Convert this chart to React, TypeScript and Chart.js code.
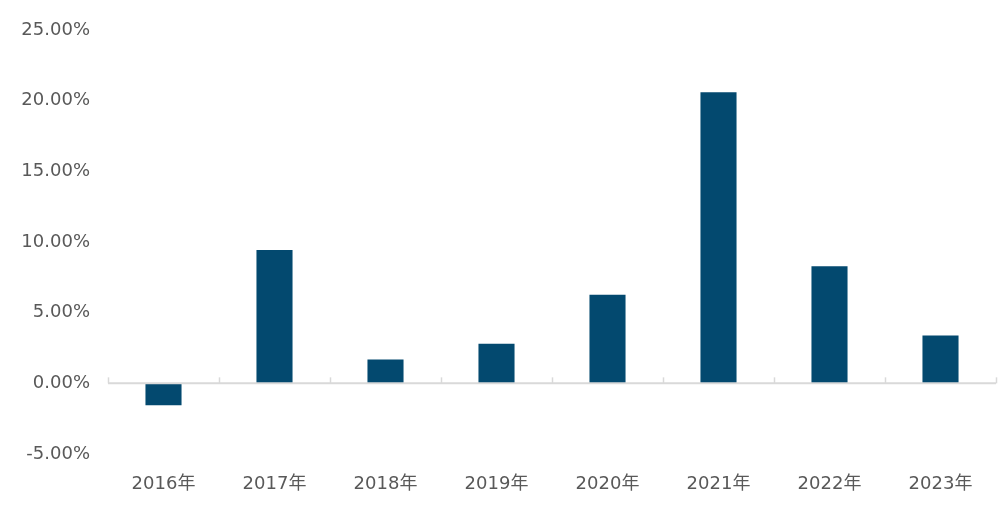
import React, { useEffect, useRef } from "react";
import { Chart, registerables } from "chart.js";

Chart.register(...registerables);

const categories: string[] = ["2016年", "2017年", "2018年", "2019年", "2020年", "2021年", "2022年", "2023年"];
const growthValues: number[] = [-1.55, 9.43, 1.68, 2.8, 6.27, 20.6, 8.29, 3.38];
const yMin = -5;
const yMax = 25;
const yStep = 5;

const BAR_COLOR = "#03496F";
const AXIS_COLOR = "#D9D9D9";
const TEXT_COLOR = "#595959";
const FONT_FAMILY = "'DejaVu Sans', 'Noto Sans CJK SC', sans-serif";

const zeroTicks = {
  id: "zeroTicks",
  afterDatasetsDraw(chart: any) {
    const x = chart.scales.x;
    const y = chart.scales.y;
    const ctx = chart.ctx;
    const y0 = y.getPixelForValue(0);
    const n = chart.data.labels.length;
    const half = (x.getPixelForValue(1) - x.getPixelForValue(0)) / 2;
    ctx.save();
    ctx.strokeStyle = AXIS_COLOR;
    ctx.lineWidth = 1.5;
    for (let i = 0; i <= n; i++) {
      const px = Math.round(x.getPixelForValue(i) - half) + 0.5;
      ctx.beginPath();
      ctx.moveTo(px, y0);
      ctx.lineTo(px, y0 - 6);
      ctx.stroke();
    }
    ctx.beginPath();
    ctx.moveTo(x.left, y0);
    ctx.lineTo(x.right, y0);
    ctx.lineWidth = 2;
    ctx.stroke();
    ctx.restore();
  },
};

export default function App() {
  const canvasRef = useRef<HTMLCanvasElement>(null);

  useEffect(() => {
    if (!canvasRef.current) return;
    const chart = new Chart(canvasRef.current, {
      type: "bar",
      data: {
        labels: categories,
        datasets: [
          {
            data: growthValues,
            backgroundColor: BAR_COLOR,
            borderWidth: 0,
            barPercentage: 0.325,
            categoryPercentage: 1,
          },
        ],
      },
      options: {
        animation: false,
        responsive: true,
        maintainAspectRatio: false,
        layout: { padding: { top: 30, right: 12, bottom: 0, left: 0 } },
        plugins: {
          legend: { display: false },
          tooltip: { enabled: false },
        },
        scales: {
          x: {
            grid: { display: false, drawTicks: false },
            border: { display: false },
            ticks: {
              color: TEXT_COLOR,
              padding: 20,
              font: { family: FONT_FAMILY, size: 18 },
            },
            afterFit: (s: any) => {
              s.height = 56;
            },
          },
          y: {
            min: yMin,
            max: yMax,
            grid: { display: false, drawTicks: false },
            border: { display: false },
            ticks: {
              stepSize: yStep,
              color: TEXT_COLOR,
              padding: 18,
              font: { family: FONT_FAMILY, size: 18 },
              callback: (v: any) => Number(v).toFixed(2) + "%",
            },
            afterFit: (s: any) => {
              s.width = 108;
            },
          },
        },
      },
      plugins: [zeroTicks],
    });
    return () => chart.destroy();
  }, []);

  return (
    <div style={{ position: "fixed", left: 0, top: 0, width: 1008, height: 510, background: "#fff" }}>
      <canvas ref={canvasRef} />
    </div>
  );
}
